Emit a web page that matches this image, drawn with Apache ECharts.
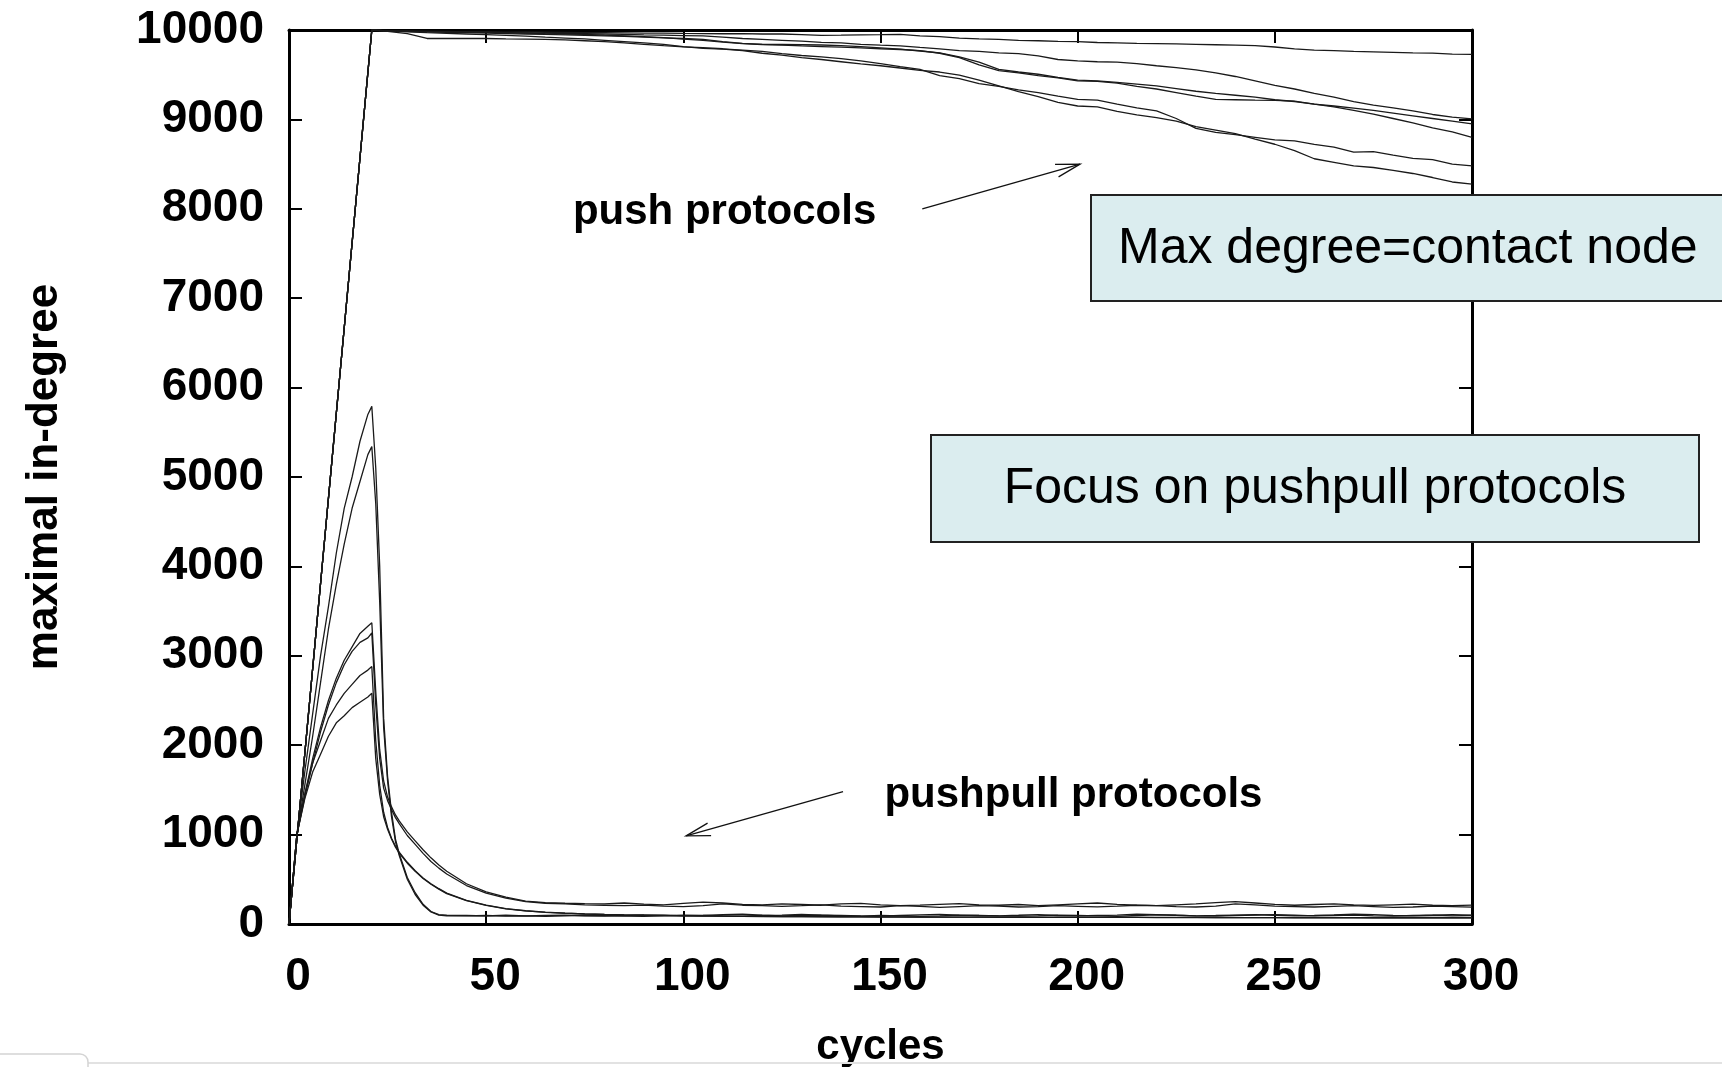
<!DOCTYPE html>
<html>
<head>
<meta charset="utf-8">
<script src="https://cdn.jsdelivr.net/npm/echarts@6/dist/echarts.min.js"></script>
<style>
html,body{margin:0;padding:0;background:#fff;}
#c{width:1722px;height:1067px;}
</style>
</head>
<body>
<div id="c"></div>
<script>
// ---------- DATA ----------
const xTicks = [0, 50, 100, 150, 200, 250, 300];
const yTicks = [0, 1000, 2000, 3000, 4000, 5000, 6000, 7000, 8000, 9000, 10000];

// push protocols: cycles
const pushCycles = [0, 21, 25, 30, 35, 40, 45, 50, 55, 60, 65, 70, 75, 80, 85, 90, 95, 100, 105, 110, 115, 120,
  125, 130, 135, 140, 145, 150, 155, 160, 165, 170, 175, 180, 185, 190, 195, 200, 205, 210, 215, 220,
  225, 230, 235, 240, 245, 250, 255, 260, 265, 270, 275, 280, 285, 290, 295, 300];

const push1 = [0, 10000, 9990, 9990, 9985, 9985, 9980, 9980, 9975, 9978, 9975, 9972, 9970, 9970, 9968, 9965, 9965, 9962,
  9960, 9958, 9960, 9955, 9955, 9948, 9940, 9942, 9945, 9948, 9952, 9935, 9925, 9910, 9900, 9895, 9885, 9880, 9872,
  9870, 9860, 9855, 9850, 9848, 9845, 9840, 9835, 9830, 9825, 9810, 9790, 9775, 9770, 9760, 9755, 9750, 9745, 9742, 9730, 9728];
const push2 = [0, 10000, 9990, 9985, 9982, 9980, 9978, 9975, 9970, 9968, 9965, 9960, 9958, 9955, 9950, 9945, 9942, 9938,
  9934, 9920, 9905, 9896, 9885, 9875, 9862, 9855, 9840, 9830, 9822, 9805, 9790, 9770, 9760, 9745, 9735, 9710, 9670,
  9655, 9645, 9640, 9625, 9600, 9580, 9555, 9520, 9480, 9430, 9380, 9340, 9290, 9250, 9200, 9160, 9130, 9095, 9055, 9025, 9005];
const push3 = [0, 10000, 9990, 9985, 9980, 9975, 9970, 9965, 9960, 9955, 9950, 9945, 9940, 9935, 9930, 9920, 9912, 9905,
  9895, 9870, 9850, 9840, 9838, 9835, 9832, 9825, 9815, 9800, 9785, 9765, 9745, 9700, 9640, 9560, 9530, 9505, 9470,
  9440, 9430, 9415, 9395, 9375, 9345, 9315, 9290, 9270, 9250, 9220, 9200, 9170, 9150, 9125, 9100, 9070, 9040, 9010, 8980, 8950];
const push4 = [0, 10000, 9992, 9988, 9985, 9982, 9978, 9975, 9970, 9966, 9960, 9955, 9950, 9942, 9935, 9925, 9915, 9898,
  9885, 9865, 9848, 9838, 9830, 9822, 9815, 9808, 9800, 9790, 9782, 9770, 9740, 9690, 9610, 9545, 9520, 9490, 9465,
  9431, 9425, 9405, 9370, 9340, 9300, 9260, 9225, 9220, 9215, 9212, 9205, 9170, 9140, 9100, 9060, 9010, 8960, 8905, 8860, 8800];
const push5 = [0, 10000, 9985, 9960, 9905, 9905, 9905, 9905, 9900, 9898, 9895, 9890, 9880, 9870, 9855, 9840, 9825, 9812,
  9802, 9790, 9775, 9760, 9735, 9715, 9700, 9680, 9655, 9625, 9590, 9560, 9490, 9455, 9400, 9370, 9330, 9300, 9260,
  9225, 9215, 9170, 9130, 9095, 9010, 8900, 8855, 8830, 8800, 8770, 8760, 8720, 8690, 8635, 8640, 8600, 8565, 8550, 8500, 8480];
const push6 = [0, 10000, 9990, 9980, 9970, 9962, 9955, 9948, 9940, 9932, 9920, 9910, 9900, 9885, 9870, 9855, 9840, 9815,
  9795, 9785, 9770, 9740, 9720, 9692, 9670, 9645, 9620, 9600, 9575, 9548, 9530, 9495, 9440, 9375, 9310, 9255, 9190,
  9150, 9140, 9090, 9050, 9020, 8980, 8920, 8880, 8840, 8780, 8722, 8650, 8560, 8520, 8480, 8462, 8430, 8395, 8350, 8300, 8276];

// pushpull protocols: cycles
const ppCycles = [0, 2, 4, 6, 8, 10, 12, 14, 16, 18, 20, 21, 22, 23, 24, 25, 26, 27, 28, 30, 32, 34, 36, 38, 40,
  45, 50, 55, 60, 65, 70, 75, 80, 85, 90, 95, 100, 105, 110, 115, 120, 125, 130, 135, 140, 145, 150, 155, 160,
  165, 170, 175, 180, 185, 190, 195, 200, 205, 210, 215, 220, 225, 230, 235, 240, 245, 250, 255, 260, 265, 270,
  275, 280, 285, 290, 295, 300];

const pp1 = [0, 1000, 1700, 2350, 3000, 3550, 4150, 4650, 5000, 5400, 5700,
  5790, 5100, 4000, 2300, 1650, 1250, 950, 780,
  520, 350, 220, 140, 105, 98,
  95, 92, 98, 90, 95, 100, 92, 88, 95, 102, 98, 90, 95, 105, 110, 98, 92, 95, 100, 95, 90, 88, 95, 102, 108, 100,
  95, 92, 98, 105, 95, 90, 95, 100, 110, 105, 98, 92, 95, 100, 105, 98, 92, 95, 102, 110, 105, 95, 92, 98, 105, 100];
const pp2 = [0, 1000, 1550, 2100, 2700, 3300, 3800, 4250, 4650, 4950, 5250,
  5340, 4700, 3600, 2200, 1600, 1200, 920, 760,
  500, 330, 210, 135, 100, 92,
  90, 95, 88, 92, 85, 90, 98, 95, 88, 85, 92, 100, 95, 90, 88, 95, 100, 108, 98, 92, 88, 95, 90, 85, 92, 100,
  95, 90, 88, 92, 98, 95, 90, 85, 95, 102, 98, 92, 88, 95, 100, 105, 98, 90, 95, 100, 92, 88, 95, 98, 92, 95];
const pp3 = [0, 1000, 1450, 1850, 2200, 2500, 2750, 2950, 3100, 3250, 3330,
  3370, 2600, 1950, 1600, 1420, 1310, 1220, 1150,
  1030, 930, 830, 740, 660, 590,
  450, 360, 300, 255,
  240, 232, 228, 225, 235, 222, 215, 230, 245, 235, 220, 215, 225, 218, 210, 225, 230, 215, 205, 212,
  220, 228, 215, 210, 218, 205, 215, 225, 235, 220, 212, 205, 215, 225, 240, 250, 235, 220, 210, 218,
  225, 215, 208, 215, 222, 210, 205, 212];
const pp4 = [0, 1000, 1420, 1800, 2150, 2450, 2700, 2900, 3050, 3150, 3200,
  3255, 2450, 1850, 1520, 1380, 1280, 1190, 1120,
  990, 890, 790, 700, 625, 560,
  430, 345, 290, 250,
  232, 225, 215, 210, 205, 212, 200, 195, 205, 225, 210, 205, 198, 205, 215, 200, 195, 190, 205, 198,
  185, 195, 205, 200, 190, 195, 205, 198, 192, 200, 210, 205, 195, 190, 200, 225, 215, 200, 195, 190,
  198, 205, 195, 185, 190, 200, 195, 188];
const pp5 = [0, 1000, 1450, 1800, 2050, 2300, 2450, 2580, 2680, 2780, 2840,
  2880, 2050, 1550, 1250, 1080, 960, 870, 800,
  690, 595, 515, 450, 395, 345,
  265, 210, 172, 148,
  132, 122, 114, 108, 103, 99, 96, 93, 90, 88, 86, 85, 84, 83, 82, 81, 80, 79, 79, 78,
  78, 77, 77, 76, 76, 75, 75, 75, 74, 74, 74, 73, 73, 73, 72, 72, 72, 72, 71, 71,
  71, 71, 70, 70, 70, 70, 70, 70];
const pp6 = [0, 1000, 1400, 1700, 1900, 2100, 2250, 2330, 2420, 2480, 2540,
  2580, 1850, 1450, 1200, 1060, 950, 860, 790,
  680, 590, 510, 445, 390, 340,
  262, 208, 170, 146,
  130, 120, 112, 106, 101, 97, 94, 91, 89, 87, 85, 84, 83, 82, 81, 80, 79, 78, 78, 77,
  77, 76, 76, 75, 75, 74, 74, 74, 73, 73, 73, 72, 72, 72, 71, 71, 71, 71, 70, 70,
  70, 70, 69, 69, 69, 69, 69, 69];

// annotations (data coordinates)
const pushLabel = {text: 'push protocols', at: [72, 7965]};
const pushArrow = {from: [160.6, 8000], to: [200.6, 8500]};
const ppLabel = {text: 'pushpull protocols', at: [151, 1440]};
const ppArrow = {from: [140.5, 1480], to: [100.7, 985]};
const box1Text = 'Max degree=contact node';
const box2Text = 'Focus on pushpull protocols';

// ---------- CHART ----------
const FONT = '"Liberation Sans", Arial, Helvetica, sans-serif';
const chart = echarts.init(document.getElementById('c'), null, {renderer: 'canvas'});

function mk(xs, ys, name) {
  return {
    type: 'line', name: name, data: xs.map((x, i) => [x, ys[i]]),
    symbol: 'none', showSymbol: false, silent: true, animation: false,
    lineStyle: {color: '#1a1a1a', width: 1.3}, z: 3
  };
}

const axisLineStyle = {color: '#000', width: 3};
const tickStyle = {color: '#000', width: 2};

chart.setOption({
  animation: false,
  backgroundColor: '#ffffff',
  grid: {left: 289, right: 250, top: 30, bottom: 143, show: false, containLabel: false, outerBoundsMode: 'none'},
  xAxis: [{
    type: 'value', min: 0, max: 300, interval: 50, position: 'bottom',
    axisLine: {show: true, onZero: false, lineStyle: axisLineStyle},
    axisTick: {show: true, inside: true, length: 13, lineStyle: tickStyle},
    axisLabel: {fontSize: 46, fontWeight: 'bold', color: '#000', fontFamily: FONT, margin: 30, padding: [0, 0, 0, 18],
      formatter: v => (xTicks.indexOf(v) >= 0 ? String(v) : '')},
    splitLine: {show: false},
    name: 'cycles', nameLocation: 'middle', nameGap: 102,
    nameTextStyle: {fontSize: 42, fontWeight: 'bold', color: '#000', fontFamily: FONT}
  }, {
    type: 'value', min: 0, max: 300, interval: 50, position: 'top',
    axisLine: {show: true, onZero: false, lineStyle: axisLineStyle},
    axisTick: {show: true, inside: true, length: 13, lineStyle: tickStyle},
    axisLabel: {show: false}, splitLine: {show: false}
  }],
  yAxis: [{
    type: 'value', min: 0, max: 10000, interval: 1000, position: 'left',
    axisLine: {show: true, onZero: false, lineStyle: axisLineStyle},
    axisTick: {show: true, inside: true, length: 13, lineStyle: tickStyle},
    axisLabel: {fontSize: 46, fontWeight: 'bold', color: '#000', fontFamily: FONT, margin: 25,
      formatter: v => (yTicks.indexOf(v) >= 0 ? String(v) : '')},
    splitLine: {show: false},
    name: 'maximal in-degree', nameLocation: 'middle', nameGap: 222,
    nameTextStyle: {fontSize: 44, fontWeight: 'bold', color: '#000', fontFamily: FONT}
  }, {
    type: 'value', min: 0, max: 10000, interval: 1000, position: 'right',
    axisLine: {show: true, onZero: false, lineStyle: axisLineStyle},
    axisTick: {show: true, inside: true, length: 13, lineStyle: tickStyle},
    axisLabel: {show: false}, splitLine: {show: false}
  }],
  series: [
    mk(pushCycles, push1, 'push1'), mk(pushCycles, push2, 'push2'), mk(pushCycles, push3, 'push3'),
    mk(pushCycles, push4, 'push4'), mk(pushCycles, push5, 'push5'), mk(pushCycles, push6, 'push6'),
    mk(ppCycles, pp1, 'pp1'), mk(ppCycles, pp2, 'pp2'), mk(ppCycles, pp3, 'pp3'),
    mk(ppCycles, pp4, 'pp4'), mk(ppCycles, pp5, 'pp5'), mk(ppCycles, pp6, 'pp6')
  ]
});

function px(p) { return chart.convertToPixel({xAxisIndex: 0, yAxisIndex: 0}, p); }

function arrowGraphics(a) {
  const t = px(a.from), h = px(a.to);
  const dx = t[0] - h[0], dy = t[1] - h[1];
  const len = Math.sqrt(dx * dx + dy * dy);
  const ux = dx / len, uy = dy / len;
  const L = 25, ang = 15 * Math.PI / 180;
  const arm = s => [h[0] + L * (ux * Math.cos(s * ang) - uy * Math.sin(s * ang)),
                    h[1] + L * (ux * Math.sin(s * ang) + uy * Math.cos(s * ang))];
  const st = {stroke: '#111', lineWidth: 1.3, fill: null};
  return [
    {type: 'line', shape: {x1: t[0], y1: t[1], x2: h[0], y2: h[1]}, style: st, z: 10, silent: true},
    {type: 'polyline', shape: {points: [arm(1), h, arm(-1)]}, style: st, z: 10, silent: true}
  ];
}

const pl = px(pushLabel.at), ppl = px(ppLabel.at);
const graphics = [].concat(
  [{type: 'text', x: pl[0], y: pl[1], z: 10, silent: true,
    style: {text: pushLabel.text, font: 'bold 42px ' + FONT, fill: '#000', textAlign: 'left', textVerticalAlign: 'middle'}},
   {type: 'text', x: ppl[0], y: ppl[1], z: 10, silent: true,
    style: {text: ppLabel.text, font: 'bold 42px ' + FONT, fill: '#000', textAlign: 'left', textVerticalAlign: 'middle'}}],
  arrowGraphics(pushArrow), arrowGraphics(ppArrow),
  [{type: 'rect', shape: {x: 1091, y: 195, width: 700, height: 106}, z: 20, silent: true,
    style: {fill: '#dbedef', stroke: '#222', lineWidth: 2}},
   {type: 'text', x: 1118, y: 249, z: 21, silent: true,
    style: {text: box1Text, font: '50px ' + FONT, fill: '#000', textAlign: 'left', textVerticalAlign: 'middle'}},
   {type: 'rect', shape: {x: 931, y: 435, width: 768, height: 107}, z: 20, silent: true,
    style: {fill: '#dbedef', stroke: '#222', lineWidth: 2}},
   {type: 'text', x: 1315, y: 489, z: 21, silent: true,
    style: {text: box2Text, font: '50px ' + FONT, fill: '#000', textAlign: 'center', textVerticalAlign: 'middle'}},
   {type: 'line', shape: {x1: 88, y1: 1063, x2: 1722, y2: 1063}, z: 1, silent: true,
    style: {stroke: '#e2e2e2', lineWidth: 2}},
   {type: 'rect', shape: {x: -12, y: 1054, width: 100, height: 30, r: 8}, z: 1, silent: true,
    style: {fill: '#ffffff', stroke: '#d4d4d4', lineWidth: 1.5}}]
);
chart.setOption({graphic: graphics});
</script>
</body>
</html>
